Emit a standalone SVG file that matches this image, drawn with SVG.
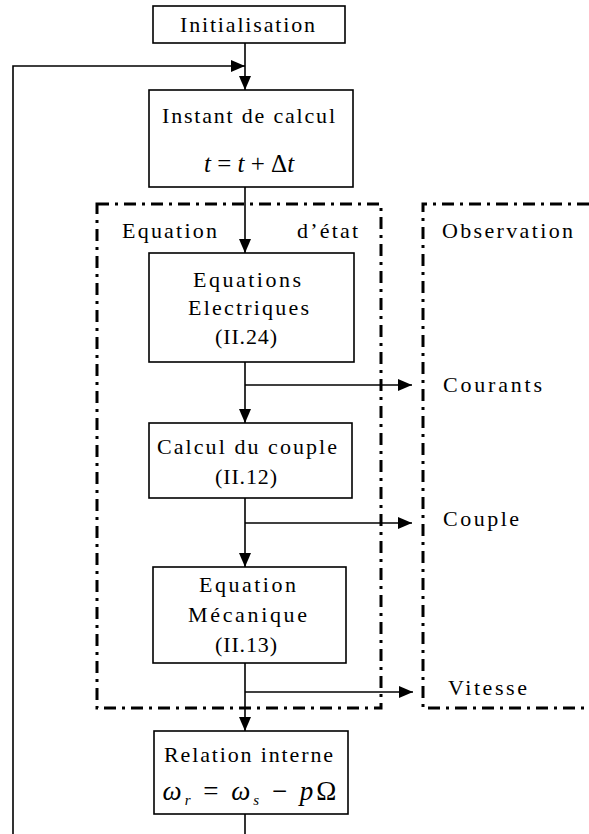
<svg xmlns="http://www.w3.org/2000/svg" width="589" height="834" viewBox="0 0 589 834">
<style>
.bg{fill:#fff}
.box{fill:#fff;stroke:#000;stroke-width:1.6}
.dd{fill:none;stroke:#000;stroke-width:3;stroke-dasharray:12 6 3 6}
.ln{fill:none;stroke:#000;stroke-width:1.6}
text{font-family:"Liberation Serif","Times New Roman",serif;font-size:22px;fill:#000}
.it{font-style:italic}
.c{text-anchor:middle}
</style>
<defs>
<marker id="ah" markerUnits="userSpaceOnUse" markerWidth="15" markerHeight="13" refX="14" refY="6" orient="auto">
<path d="M0,0 L14,6 L0,12 z" fill="#000"/>
</marker>
</defs>
<rect class="bg" x="0" y="0" width="589" height="834"/>
<g id="groups">
<rect id="etat" class="dd" x="97" y="204" width="284" height="504"/>
<path id="observation" class="dd" d="M589 204 H423 V708 H589"/>
<text x="122" y="238" textLength="95" lengthAdjust="spacing">Equation</text>
<text x="297" y="238" textLength="61" lengthAdjust="spacing">d’état</text>
<text x="442" y="238" textLength="131" lengthAdjust="spacing">Observation</text>
</g>
<g id="connectors">
<path class="ln" d="M245 43 V90" marker-end="url(#ah)"/>
<path class="ln" d="M13 834 V66 H245" marker-end="url(#ah)"/>
<path class="ln" d="M245 187 V253" marker-end="url(#ah)"/>
<path class="ln" d="M245 362 V423" marker-end="url(#ah)"/>
<path class="ln" d="M245 385 H412" marker-end="url(#ah)"/>
<path class="ln" d="M245 498 V567" marker-end="url(#ah)"/>
<path class="ln" d="M245 523 H412" marker-end="url(#ah)"/>
<path class="ln" d="M245 663 V731" marker-end="url(#ah)"/>
<path class="ln" d="M245 692 H413" marker-end="url(#ah)"/>
<path class="ln" d="M245 814 V834"/>
</g>
<g id="init">
<rect class="box" x="153" y="6" width="192" height="37"/>
<text x="180" y="32" textLength="135" lengthAdjust="spacing">Initialisation</text>
</g>
<g id="instant">
<rect class="box" x="149" y="90" width="204" height="97"/>
<text x="162" y="123" textLength="173" lengthAdjust="spacing">Instant de calcul</text>
<text x="249" y="172" class="c" style="font-size:25px"><tspan class="it">t</tspan> = <tspan class="it">t</tspan> + Δ<tspan class="it">t</tspan></text>
</g>
<g id="electriques">
<rect class="box" x="149" y="253" width="205" height="109"/>
<text x="193" y="287" textLength="108" lengthAdjust="spacing">Equations</text>
<text x="188" y="315" textLength="121" lengthAdjust="spacing">Electriques</text>
<text x="215" y="344" textLength="62" lengthAdjust="spacing">(II.24)</text>
</g>
<g id="couple">
<rect class="box" x="149" y="423" width="203" height="75"/>
<text x="157" y="454" textLength="180" lengthAdjust="spacing">Calcul du couple</text>
<text x="215" y="484" textLength="62" lengthAdjust="spacing">(II.12)</text>
</g>
<g id="mecanique">
<rect class="box" x="153" y="567" width="193" height="96"/>
<text x="199" y="592" textLength="97" lengthAdjust="spacing">Equation</text>
<text x="188" y="622" textLength="119" lengthAdjust="spacing">Mécanique</text>
<text x="215" y="652" textLength="62" lengthAdjust="spacing">(II.13)</text>
</g>
<g id="relation">
<rect class="box" x="154" y="731" width="194" height="83"/>
<text x="164" y="762" textLength="169" lengthAdjust="spacing">Relation interne</text>
<text x="251" y="800" class="c" style="font-size:27px;letter-spacing:3px"><tspan class="it">ω</tspan><tspan class="it" style="font-size:15px" dy="5">r</tspan><tspan dy="-5"> = </tspan><tspan class="it">ω</tspan><tspan class="it" style="font-size:15px" dy="5">s</tspan><tspan dy="-5"> − </tspan><tspan class="it">p</tspan>Ω</text>
</g>
<g id="outputs">
<text x="443" y="392" textLength="99" lengthAdjust="spacing">Courants</text>
<text x="443" y="526" textLength="76" lengthAdjust="spacing">Couple</text>
<text x="448" y="695" textLength="79" lengthAdjust="spacing">Vitesse</text>
</g>
</svg>
